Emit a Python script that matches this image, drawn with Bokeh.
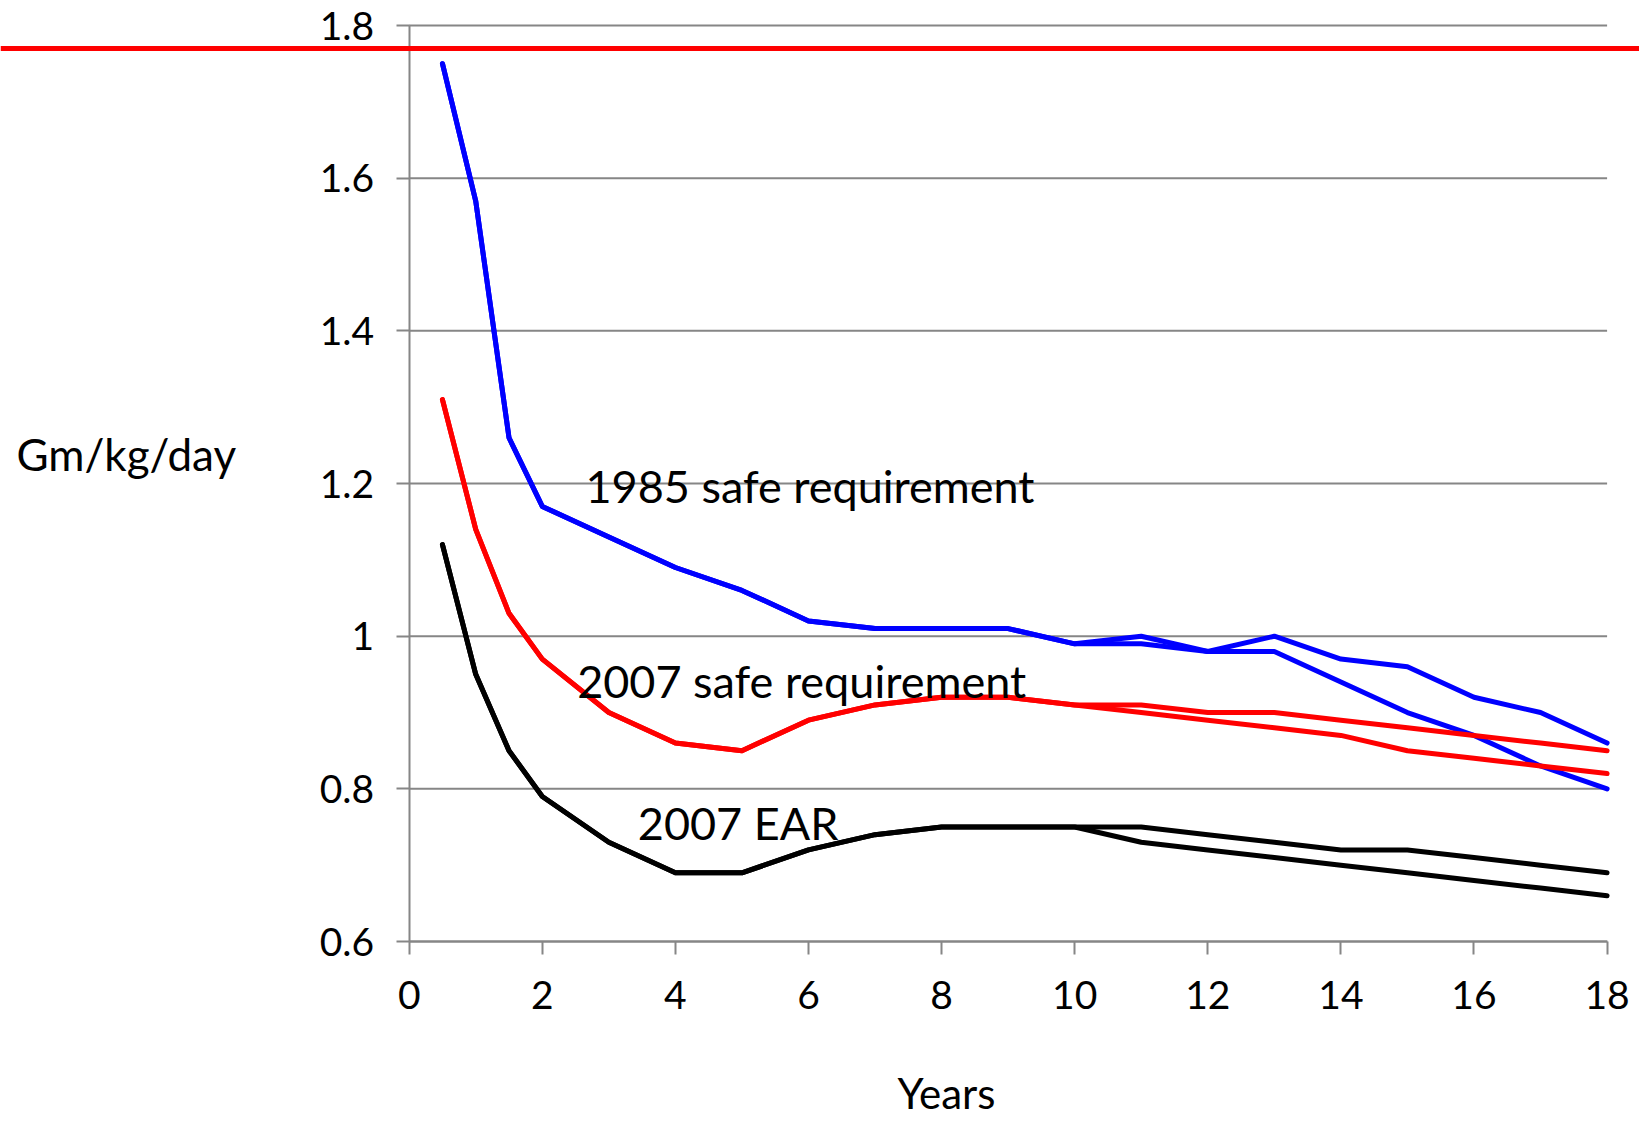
from bokeh.plotting import figure
from bokeh.models import Range1d, FixedTicker, Span
from bokeh.core.properties import value
from bokeh.embed import file_html
from bokeh.resources import INLINE

# Ages in years
years = [0.5, 1, 1.5, 2, 3, 4, 5, 6, 7, 8, 9, 10, 11, 12, 13, 14, 15, 16, 17, 18]

# Protein requirement, g/kg/day (two curves per series after age 10)
safe_1985_a = [1.75, 1.57, 1.26, 1.17, 1.13, 1.09, 1.06, 1.02, 1.01, 1.01, 1.01, 0.99,
               1.00, 0.98, 1.00, 0.97, 0.96, 0.92, 0.90, 0.86]
safe_1985_b = [1.75, 1.57, 1.26, 1.17, 1.13, 1.09, 1.06, 1.02, 1.01, 1.01, 1.01, 0.99,
               0.99, 0.98, 0.98, 0.94, 0.90, 0.87, 0.83, 0.80]
safe_2007_a = [1.31, 1.14, 1.03, 0.97, 0.90, 0.86, 0.85, 0.89, 0.91, 0.92, 0.92, 0.91,
               0.91, 0.90, 0.90, 0.89, 0.88, 0.87, 0.86, 0.85]
safe_2007_b = [1.31, 1.14, 1.03, 0.97, 0.90, 0.86, 0.85, 0.89, 0.91, 0.92, 0.92, 0.91,
               0.90, 0.89, 0.88, 0.87, 0.85, 0.84, 0.83, 0.82]
ear_2007_a = [1.12, 0.95, 0.85, 0.79, 0.73, 0.69, 0.69, 0.72, 0.74, 0.75, 0.75, 0.75,
              0.75, 0.74, 0.73, 0.72, 0.72, 0.71, 0.70, 0.69]
ear_2007_b = [1.12, 0.95, 0.85, 0.79, 0.73, 0.69, 0.69, 0.72, 0.74, 0.75, 0.75, 0.75,
              0.73, 0.72, 0.71, 0.70, 0.69, 0.68, 0.67, 0.66]

reference_level = 1.77

x_ticks = [0, 2, 4, 6, 8, 10, 12, 14, 16, 18]
y_ticks = [0.6, 0.8, 1.0, 1.2, 1.4, 1.6, 1.8]
y_tick_labels = ["0.6", "0.8", "1", "1.2", "1.4", "1.6", "1.8"]

series_labels = ["1985 safe requirement", "2007 safe requirement", "2007 EAR"]
label_x = [2.649, 2.524, 3.435]
label_y = [1.197, 0.941, 0.755]

FONT = "Lato"
GRAY = "#868686"

p = figure(width=1639, height=1124, output_backend="svg", toolbar_location=None,
           x_range=Range1d(-6.141, 18.487), y_range=Range1d(0.3603, 1.8328),
           min_border=0, min_border_left=0, min_border_right=0,
           min_border_top=0, min_border_bottom=0)
p.outline_line_color = None
p.background_fill_color = "white"
p.border_fill_color = "white"
p.xgrid.visible = False
p.ygrid.visible = False

# horizontal gridlines between the axis bounds
p.segment(x0=[x_ticks[0]] * len(y_ticks), x1=[x_ticks[-1]] * len(y_ticks),
          y0=y_ticks, y1=y_ticks, line_color=GRAY, line_width=2)

line_kw = dict(line_width=5, line_join="round", line_cap="round")
p.line(years, safe_1985_a, line_color="#0000FF", **line_kw)
p.line(years, safe_1985_b, line_color="#0000FF", **line_kw)
p.line(years, safe_2007_a, line_color="#FF0000", **line_kw)
p.line(years, safe_2007_b, line_color="#FF0000", **line_kw)
p.line(years, ear_2007_a, line_color="#000000", **line_kw)
p.line(years, ear_2007_b, line_color="#000000", **line_kw)

p.add_layout(Span(location=reference_level, dimension="width",
                  line_color="#FF0000", line_width=5))

p.text(x=label_x, y=label_y, text=series_labels, text_font=value(FONT),
       text_font_size="45px", text_color="black", text_baseline="alphabetic",
       text_align="left")

p.text(x=[-5.901], y=[1.239], text=["Gm/kg/day"], text_font=value(FONT),
       text_font_size="44px", text_color="black", text_baseline="alphabetic",
       text_align="left")
p.text(x=[7.337], y=[0.402], text=["Years"], text_font=value(FONT),
       text_font_size="42px", text_color="black", text_baseline="alphabetic",
       text_align="left")

# axes pinned at x = 0 and y = 0.6 inside the full-canvas frame
for ax in (p.xaxis[0], p.yaxis[0]):
    ax.axis_line_color = GRAY
    ax.axis_line_width = 2
    ax.major_tick_line_color = GRAY
    ax.major_tick_line_width = 2
    ax.major_tick_in = 0
    ax.major_tick_out = 13
    ax.minor_tick_line_color = None
    ax.major_label_text_font = FONT
    ax.major_label_text_font_size = "39px"
    ax.major_label_text_color = "black"

p.yaxis[0].fixed_location = 0
p.yaxis[0].bounds = (y_ticks[0], y_ticks[-1])
p.yaxis[0].ticker = FixedTicker(ticks=y_ticks)
p.yaxis[0].major_label_overrides = dict(zip(y_ticks, y_tick_labels))
p.yaxis[0].major_label_standoff = 22

p.xaxis[0].fixed_location = 0.6
p.xaxis[0].bounds = (x_ticks[0], x_ticks[-1])
p.xaxis[0].ticker = FixedTicker(ticks=x_ticks)
p.xaxis[0].major_label_standoff = 26

open("out.html", "w").write(file_html(p, INLINE))
